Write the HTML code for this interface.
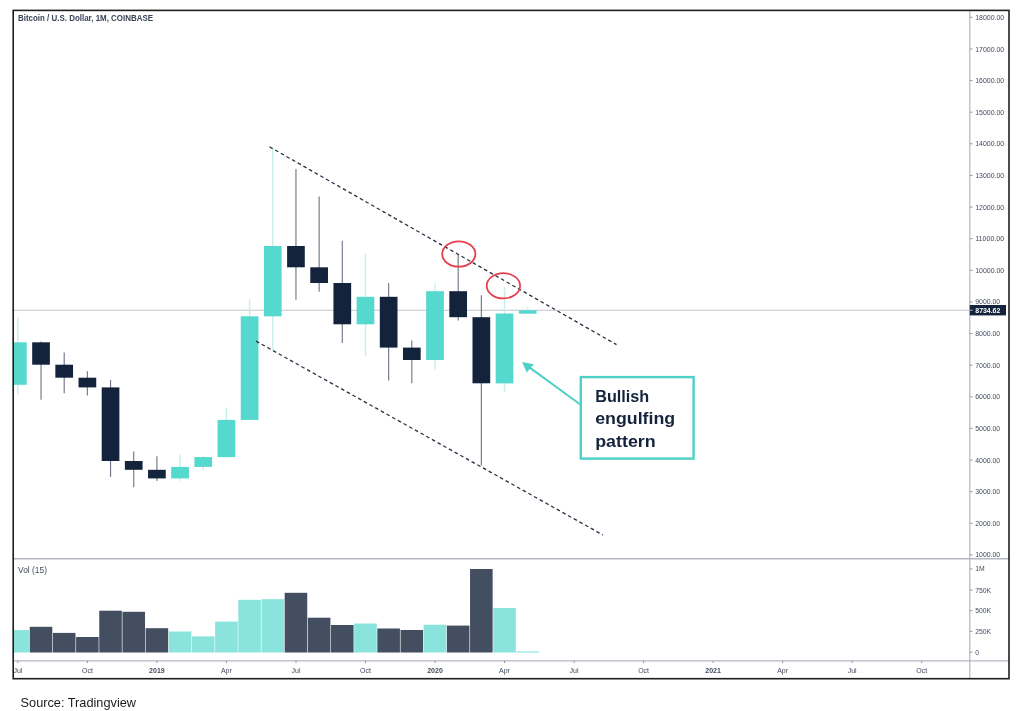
<!DOCTYPE html>
<html lang="en"><head><meta charset="utf-8"><title>Bitcoin / U.S. Dollar, 1M, COINBASE</title>
<style>html,body{margin:0;padding:0;background:#fff;}body{width:1024px;height:711px;overflow:hidden;position:relative;font-family:"Liberation Sans",sans-serif;}svg{position:absolute;left:0;top:0;display:block;filter:blur(0.4px);}text{font-family:"Liberation Sans",sans-serif;}</style></head><body>
<svg width="1024" height="711" viewBox="0 0 1024 711">
<defs><clipPath id="plot"><rect x="13.2" y="10.5" width="995.8" height="668"/></clipPath></defs>
<rect width="1024" height="711" fill="#ffffff"/>
<g clip-path="url(#plot)">
<line x1="13" y1="310.2" x2="970" y2="310.2" stroke="#c3c5cd" stroke-width="1.15"/>
<rect x="6.56" y="630.1" width="22.57" height="22.4" fill="#8ae3dd"/>
<rect x="29.74" y="626.8" width="22.57" height="25.7" fill="#434e61"/>
<rect x="52.91" y="632.9" width="22.57" height="19.6" fill="#434e61"/>
<rect x="76.09" y="637.0" width="22.57" height="15.5" fill="#434e61"/>
<rect x="99.26" y="610.7" width="22.57" height="41.8" fill="#434e61"/>
<rect x="122.44" y="611.8" width="22.57" height="40.7" fill="#434e61"/>
<rect x="145.61" y="628.2" width="22.57" height="24.3" fill="#434e61"/>
<rect x="168.79" y="631.5" width="22.57" height="21.0" fill="#8ae3dd"/>
<rect x="191.96" y="636.4" width="22.57" height="16.1" fill="#8ae3dd"/>
<rect x="215.14" y="621.6" width="22.57" height="30.9" fill="#8ae3dd"/>
<rect x="238.31" y="599.8" width="22.57" height="52.7" fill="#8ae3dd"/>
<rect x="261.49" y="599.2" width="22.57" height="53.3" fill="#8ae3dd"/>
<rect x="284.66" y="592.8" width="22.57" height="59.7" fill="#434e61"/>
<rect x="307.84" y="617.7" width="22.57" height="34.8" fill="#434e61"/>
<rect x="331.01" y="625.0" width="22.57" height="27.5" fill="#434e61"/>
<rect x="354.19" y="623.5" width="22.57" height="29.0" fill="#8ae3dd"/>
<rect x="377.36" y="628.5" width="22.57" height="24.0" fill="#434e61"/>
<rect x="400.54" y="630.0" width="22.57" height="22.5" fill="#434e61"/>
<rect x="423.71" y="624.7" width="22.57" height="27.8" fill="#8ae3dd"/>
<rect x="446.89" y="625.6" width="22.57" height="26.9" fill="#434e61"/>
<rect x="470.06" y="569.0" width="22.57" height="83.5" fill="#434e61"/>
<rect x="493.24" y="608.0" width="22.57" height="44.5" fill="#8ae3dd"/>
<rect x="516.41" y="651.4" width="22.57" height="1.1" fill="#8ae3dd"/>
<line x1="17.85" y1="318.0" x2="17.85" y2="394.0" stroke="#c6efec" stroke-width="1.4"/>
<line x1="41.03" y1="341.5" x2="41.03" y2="399.8" stroke="#727889" stroke-width="1.15"/>
<line x1="64.20" y1="352.6" x2="64.20" y2="393.3" stroke="#727889" stroke-width="1.15"/>
<line x1="87.38" y1="371.2" x2="87.38" y2="395.4" stroke="#727889" stroke-width="1.15"/>
<line x1="110.55" y1="380.0" x2="110.55" y2="476.9" stroke="#727889" stroke-width="1.15"/>
<line x1="133.72" y1="451.5" x2="133.72" y2="487.2" stroke="#727889" stroke-width="1.15"/>
<line x1="156.90" y1="456.2" x2="156.90" y2="481.0" stroke="#727889" stroke-width="1.15"/>
<line x1="180.07" y1="454.2" x2="180.07" y2="480.7" stroke="#c6efec" stroke-width="1.4"/>
<line x1="203.25" y1="456.0" x2="203.25" y2="470.4" stroke="#c6efec" stroke-width="1.4"/>
<line x1="226.43" y1="407.8" x2="226.43" y2="457.7" stroke="#c6efec" stroke-width="1.4"/>
<line x1="249.60" y1="299.3" x2="249.60" y2="419.9" stroke="#c6efec" stroke-width="1.4"/>
<line x1="272.78" y1="147.7" x2="272.78" y2="350.0" stroke="#c6efec" stroke-width="1.4"/>
<line x1="295.95" y1="169.0" x2="295.95" y2="299.8" stroke="#727889" stroke-width="1.15"/>
<line x1="319.13" y1="196.4" x2="319.13" y2="291.8" stroke="#727889" stroke-width="1.15"/>
<line x1="342.30" y1="240.7" x2="342.30" y2="342.9" stroke="#727889" stroke-width="1.15"/>
<line x1="365.48" y1="253.4" x2="365.48" y2="355.9" stroke="#c6efec" stroke-width="1.4"/>
<line x1="388.65" y1="283.0" x2="388.65" y2="380.4" stroke="#727889" stroke-width="1.15"/>
<line x1="411.83" y1="340.5" x2="411.83" y2="383.3" stroke="#727889" stroke-width="1.15"/>
<line x1="435.00" y1="283.5" x2="435.00" y2="369.5" stroke="#c6efec" stroke-width="1.4"/>
<line x1="458.18" y1="254.0" x2="458.18" y2="320.4" stroke="#727889" stroke-width="1.15"/>
<line x1="481.35" y1="295.3" x2="481.35" y2="465.4" stroke="#727889" stroke-width="1.15"/>
<line x1="504.53" y1="287.0" x2="504.53" y2="392.0" stroke="#c6efec" stroke-width="1.4"/>
<line x1="527.70" y1="307.0" x2="527.70" y2="313.7" stroke="#c6efec" stroke-width="1.4"/>
<rect x="9.00" y="342.3" width="17.7" height="42.5" fill="#55d8ce"/>
<rect x="32.18" y="342.3" width="17.7" height="22.4" fill="#14233c"/>
<rect x="55.35" y="364.7" width="17.7" height="13.0" fill="#14233c"/>
<rect x="78.53" y="377.7" width="17.7" height="9.7" fill="#14233c"/>
<rect x="101.70" y="387.4" width="17.7" height="73.6" fill="#14233c"/>
<rect x="124.88" y="461.0" width="17.7" height="8.8" fill="#14233c"/>
<rect x="148.05" y="469.8" width="17.7" height="8.6" fill="#14233c"/>
<rect x="171.22" y="466.9" width="17.7" height="11.5" fill="#55d8ce"/>
<rect x="194.40" y="457.1" width="17.7" height="9.8" fill="#55d8ce"/>
<rect x="217.58" y="419.9" width="17.7" height="37.2" fill="#55d8ce"/>
<rect x="240.75" y="316.3" width="17.7" height="103.6" fill="#55d8ce"/>
<rect x="263.93" y="246.0" width="17.7" height="70.3" fill="#55d8ce"/>
<rect x="287.10" y="246.0" width="17.7" height="21.3" fill="#14233c"/>
<rect x="310.28" y="267.3" width="17.7" height="15.7" fill="#14233c"/>
<rect x="333.45" y="283.0" width="17.7" height="41.3" fill="#14233c"/>
<rect x="356.62" y="296.8" width="17.7" height="27.5" fill="#55d8ce"/>
<rect x="379.80" y="296.8" width="17.7" height="50.8" fill="#14233c"/>
<rect x="402.98" y="347.6" width="17.7" height="12.4" fill="#14233c"/>
<rect x="426.15" y="291.2" width="17.7" height="68.8" fill="#55d8ce"/>
<rect x="449.32" y="291.2" width="17.7" height="26.0" fill="#14233c"/>
<rect x="472.50" y="317.2" width="17.7" height="66.1" fill="#14233c"/>
<rect x="495.68" y="313.5" width="17.7" height="69.9" fill="#55d8ce"/>
<rect x="518.85" y="310.2" width="17.7" height="3.5" fill="#55d8ce"/>
</g>
<line x1="269.5" y1="146.8" x2="616.5" y2="344.6" stroke="#2a3142" stroke-width="1.3" stroke-dasharray="3.6 2.9"/>
<line x1="256" y1="341.1" x2="603" y2="535" stroke="#2a3142" stroke-width="1.3" stroke-dasharray="3.6 2.9"/>
<ellipse cx="458.8" cy="254" rx="16.6" ry="12.7" fill="none" stroke="#e5404e" stroke-width="1.8"/>
<ellipse cx="503.4" cy="285.8" rx="16.7" ry="12.6" fill="none" stroke="#e5404e" stroke-width="1.8"/>
<line x1="580" y1="404.2" x2="528" y2="366.4" stroke="#4fd0c6" stroke-width="2"/>
<polygon points="522.1,362.1 533.8,364.2 526.7,372.4" fill="#4fd0c6"/>
<rect x="580.8" y="377.1" width="112.8" height="81.5" fill="#ffffff" stroke="#4fd0c6" stroke-width="2.4"/>
<text x="595.2" y="401.5" font-size="17.4" font-weight="700" fill="#14233c" textLength="54" lengthAdjust="spacingAndGlyphs">Bullish</text>
<text x="595.2" y="424.1" font-size="17.4" font-weight="700" fill="#14233c" textLength="80" lengthAdjust="spacingAndGlyphs">engulfing</text>
<text x="595.2" y="446.6" font-size="17.4" font-weight="700" fill="#14233c" textLength="60.5" lengthAdjust="spacingAndGlyphs">pattern</text>
<line x1="13" y1="558.8" x2="1009" y2="558.8" stroke="#b3b7c2" stroke-width="1.45"/>
<line x1="13" y1="660.9" x2="1009" y2="660.9" stroke="#b3b7c2" stroke-width="1.3"/>
<line x1="969.8" y1="10" x2="969.8" y2="679" stroke="#b3b7c2" stroke-width="1.2"/>
<line x1="969.8" y1="554.9" x2="972.6" y2="554.9" stroke="#8a90a0" stroke-width="0.9"/>
<text x="975.2" y="557.4" font-size="7.1" fill="#434b60" textLength="25" lengthAdjust="spacingAndGlyphs">1000.00</text>
<line x1="969.8" y1="523.3" x2="972.6" y2="523.3" stroke="#8a90a0" stroke-width="0.9"/>
<text x="975.2" y="525.8" font-size="7.1" fill="#434b60" textLength="25" lengthAdjust="spacingAndGlyphs">2000.00</text>
<line x1="969.8" y1="491.6" x2="972.6" y2="491.6" stroke="#8a90a0" stroke-width="0.9"/>
<text x="975.2" y="494.1" font-size="7.1" fill="#434b60" textLength="25" lengthAdjust="spacingAndGlyphs">3000.00</text>
<line x1="969.8" y1="460.0" x2="972.6" y2="460.0" stroke="#8a90a0" stroke-width="0.9"/>
<text x="975.2" y="462.5" font-size="7.1" fill="#434b60" textLength="25" lengthAdjust="spacingAndGlyphs">4000.00</text>
<line x1="969.8" y1="428.4" x2="972.6" y2="428.4" stroke="#8a90a0" stroke-width="0.9"/>
<text x="975.2" y="430.9" font-size="7.1" fill="#434b60" textLength="25" lengthAdjust="spacingAndGlyphs">5000.00</text>
<line x1="969.8" y1="396.8" x2="972.6" y2="396.8" stroke="#8a90a0" stroke-width="0.9"/>
<text x="975.2" y="399.3" font-size="7.1" fill="#434b60" textLength="25" lengthAdjust="spacingAndGlyphs">6000.00</text>
<line x1="969.8" y1="365.2" x2="972.6" y2="365.2" stroke="#8a90a0" stroke-width="0.9"/>
<text x="975.2" y="367.7" font-size="7.1" fill="#434b60" textLength="25" lengthAdjust="spacingAndGlyphs">7000.00</text>
<line x1="969.8" y1="333.5" x2="972.6" y2="333.5" stroke="#8a90a0" stroke-width="0.9"/>
<text x="975.2" y="336.0" font-size="7.1" fill="#434b60" textLength="25" lengthAdjust="spacingAndGlyphs">8000.00</text>
<line x1="969.8" y1="301.9" x2="972.6" y2="301.9" stroke="#8a90a0" stroke-width="0.9"/>
<text x="975.2" y="304.4" font-size="7.1" fill="#434b60" textLength="25" lengthAdjust="spacingAndGlyphs">9000.00</text>
<line x1="969.8" y1="270.3" x2="972.6" y2="270.3" stroke="#8a90a0" stroke-width="0.9"/>
<text x="975.2" y="272.8" font-size="7.1" fill="#434b60" textLength="29" lengthAdjust="spacingAndGlyphs">10000.00</text>
<line x1="969.8" y1="238.7" x2="972.6" y2="238.7" stroke="#8a90a0" stroke-width="0.9"/>
<text x="975.2" y="241.2" font-size="7.1" fill="#434b60" textLength="29" lengthAdjust="spacingAndGlyphs">11000.00</text>
<line x1="969.8" y1="207.1" x2="972.6" y2="207.1" stroke="#8a90a0" stroke-width="0.9"/>
<text x="975.2" y="209.6" font-size="7.1" fill="#434b60" textLength="29" lengthAdjust="spacingAndGlyphs">12000.00</text>
<line x1="969.8" y1="175.4" x2="972.6" y2="175.4" stroke="#8a90a0" stroke-width="0.9"/>
<text x="975.2" y="177.9" font-size="7.1" fill="#434b60" textLength="29" lengthAdjust="spacingAndGlyphs">13000.00</text>
<line x1="969.8" y1="143.8" x2="972.6" y2="143.8" stroke="#8a90a0" stroke-width="0.9"/>
<text x="975.2" y="146.3" font-size="7.1" fill="#434b60" textLength="29" lengthAdjust="spacingAndGlyphs">14000.00</text>
<line x1="969.8" y1="112.2" x2="972.6" y2="112.2" stroke="#8a90a0" stroke-width="0.9"/>
<text x="975.2" y="114.7" font-size="7.1" fill="#434b60" textLength="29" lengthAdjust="spacingAndGlyphs">15000.00</text>
<line x1="969.8" y1="80.6" x2="972.6" y2="80.6" stroke="#8a90a0" stroke-width="0.9"/>
<text x="975.2" y="83.1" font-size="7.1" fill="#434b60" textLength="29" lengthAdjust="spacingAndGlyphs">16000.00</text>
<line x1="969.8" y1="49.0" x2="972.6" y2="49.0" stroke="#8a90a0" stroke-width="0.9"/>
<text x="975.2" y="51.5" font-size="7.1" fill="#434b60" textLength="29" lengthAdjust="spacingAndGlyphs">17000.00</text>
<line x1="969.8" y1="17.3" x2="972.6" y2="17.3" stroke="#8a90a0" stroke-width="0.9"/>
<text x="975.2" y="19.8" font-size="7.1" fill="#434b60" textLength="29" lengthAdjust="spacingAndGlyphs">18000.00</text>
<line x1="969.8" y1="568.9" x2="972.6" y2="568.9" stroke="#8a90a0" stroke-width="0.9"/>
<text x="975.2" y="571.4" font-size="6.8" fill="#434b60">1M</text>
<line x1="969.8" y1="590.0" x2="972.6" y2="590.0" stroke="#8a90a0" stroke-width="0.9"/>
<text x="975.2" y="592.5" font-size="6.8" fill="#434b60">750K</text>
<line x1="969.8" y1="610.7" x2="972.6" y2="610.7" stroke="#8a90a0" stroke-width="0.9"/>
<text x="975.2" y="613.2" font-size="6.8" fill="#434b60">500K</text>
<line x1="969.8" y1="631.4" x2="972.6" y2="631.4" stroke="#8a90a0" stroke-width="0.9"/>
<text x="975.2" y="633.9" font-size="6.8" fill="#434b60">250K</text>
<line x1="969.8" y1="652.1" x2="972.6" y2="652.1" stroke="#8a90a0" stroke-width="0.9"/>
<text x="975.2" y="654.6" font-size="6.8" fill="#434b60">0</text>
<rect x="969.8" y="305" width="36.2" height="10.4" fill="#14233c"/>
<line x1="969.8" y1="310.2" x2="972.6" y2="310.2" stroke="#c0c4cc" stroke-width="0.9"/>
<text x="975.3" y="312.8" font-size="7.1" font-weight="700" fill="#ffffff" textLength="25" lengthAdjust="spacingAndGlyphs">8734.62</text>
<g clip-path="url(#plot)">
<line x1="17.9" y1="660.9" x2="17.9" y2="663.1" stroke="#8a90a0" stroke-width="0.9"/>
<text x="17.9" y="672.9" font-size="7" text-anchor="middle" fill="#434b60">Jul</text>
<line x1="87.4" y1="660.9" x2="87.4" y2="663.1" stroke="#8a90a0" stroke-width="0.9"/>
<text x="87.4" y="672.9" font-size="7" text-anchor="middle" fill="#434b60">Oct</text>
<line x1="156.9" y1="660.9" x2="156.9" y2="663.1" stroke="#8a90a0" stroke-width="0.9"/>
<text x="156.9" y="672.9" font-size="7" text-anchor="middle" fill="#434b60" font-weight="700">2019</text>
<line x1="226.4" y1="660.9" x2="226.4" y2="663.1" stroke="#8a90a0" stroke-width="0.9"/>
<text x="226.4" y="672.9" font-size="7" text-anchor="middle" fill="#434b60">Apr</text>
<line x1="296.0" y1="660.9" x2="296.0" y2="663.1" stroke="#8a90a0" stroke-width="0.9"/>
<text x="296.0" y="672.9" font-size="7" text-anchor="middle" fill="#434b60">Jul</text>
<line x1="365.5" y1="660.9" x2="365.5" y2="663.1" stroke="#8a90a0" stroke-width="0.9"/>
<text x="365.5" y="672.9" font-size="7" text-anchor="middle" fill="#434b60">Oct</text>
<line x1="435.0" y1="660.9" x2="435.0" y2="663.1" stroke="#8a90a0" stroke-width="0.9"/>
<text x="435.0" y="672.9" font-size="7" text-anchor="middle" fill="#434b60" font-weight="700">2020</text>
<line x1="504.5" y1="660.9" x2="504.5" y2="663.1" stroke="#8a90a0" stroke-width="0.9"/>
<text x="504.5" y="672.9" font-size="7" text-anchor="middle" fill="#434b60">Apr</text>
<line x1="574.1" y1="660.9" x2="574.1" y2="663.1" stroke="#8a90a0" stroke-width="0.9"/>
<text x="574.1" y="672.9" font-size="7" text-anchor="middle" fill="#434b60">Jul</text>
<line x1="643.6" y1="660.9" x2="643.6" y2="663.1" stroke="#8a90a0" stroke-width="0.9"/>
<text x="643.6" y="672.9" font-size="7" text-anchor="middle" fill="#434b60">Oct</text>
<line x1="713.1" y1="660.9" x2="713.1" y2="663.1" stroke="#8a90a0" stroke-width="0.9"/>
<text x="713.1" y="672.9" font-size="7" text-anchor="middle" fill="#434b60" font-weight="700">2021</text>
<line x1="782.6" y1="660.9" x2="782.6" y2="663.1" stroke="#8a90a0" stroke-width="0.9"/>
<text x="782.6" y="672.9" font-size="7" text-anchor="middle" fill="#434b60">Apr</text>
<line x1="852.2" y1="660.9" x2="852.2" y2="663.1" stroke="#8a90a0" stroke-width="0.9"/>
<text x="852.2" y="672.9" font-size="7" text-anchor="middle" fill="#434b60">Jul</text>
<line x1="921.7" y1="660.9" x2="921.7" y2="663.1" stroke="#8a90a0" stroke-width="0.9"/>
<text x="921.7" y="672.9" font-size="7" text-anchor="middle" fill="#434b60">Oct</text>
</g>
<text x="18" y="21.1" font-size="8.3" font-weight="700" fill="#3a4358" textLength="135" lengthAdjust="spacingAndGlyphs">Bitcoin / U.S. Dollar, 1M, COINBASE</text>
<text x="18" y="572.9" font-size="8.2" fill="#434b60" textLength="29" lengthAdjust="spacingAndGlyphs">Vol (15)</text>
<rect x="13.2" y="10.4" width="995.8" height="668.3" fill="none" stroke="#1e1e1e" stroke-width="1.6"/>
<text x="20.6" y="706.6" font-size="12.7" fill="#1c1c1c" textLength="115.4" lengthAdjust="spacingAndGlyphs">Source: Tradingview</text>
</svg></body></html>
